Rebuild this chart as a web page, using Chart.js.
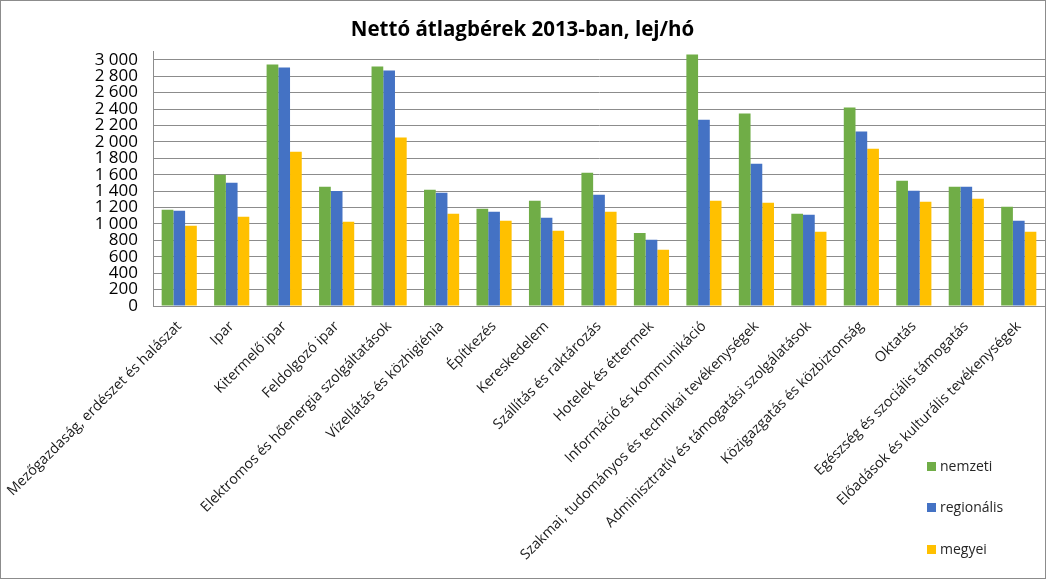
<!DOCTYPE html>
<html>
<head>
<meta charset="utf-8">
<script src="https://cdn.jsdelivr.net/npm/chart.js@4/dist/chart.umd.min.js"></script>
<style>
  html, body { margin: 0; padding: 0; background: #fff; }
  #wrap { position: relative; width: 1047px; height: 580px; overflow: hidden; }
  #c { position: absolute; left: 0; top: 0; }
  #frame { position: absolute; left: 0; top: 0; width: 1046px; height: 579px; box-sizing: border-box; border: 1px solid #8c8c8c; pointer-events: none; }
  #legend { position: absolute; left: 927px; top: 456px; font-family: "Open Sans", sans-serif; font-size: 14px; color: #262626; }
  .li { position: absolute; left: 0; white-space: nowrap; height: 20px; line-height: 20px; }
  .sw { display: inline-block; width: 9px; height: 9px; margin-right: 4px; vertical-align: middle; position: relative; top: -1px; }
</style>
</head>
<body>
<div id="wrap">
  <canvas id="c" width="1047" height="580"></canvas>
  <div id="legend"></div>
  <div id="frame"></div>
</div>
<script>
const title = "Nettó átlagbérek 2013-ban, lej/hó";
const categories = [
  "Mezőgazdaság, erdészet és halászat",
  "Ipar",
  "Kitermelő ipar",
  "Feldolgozó ipar",
  "Elektromos és hőenergia szolgáltatások",
  "Vízellátás és közhigiénia",
  "Építkezés",
  "Kereskedelem",
  "Szállítás és raktározás",
  "Hotelek és éttermek",
  "Információ és kommunikáció",
  "Szakmai, tudományos és technikai tevékenységek",
  "Adminisztratív és támogatási szolgálatások",
  "Közigazgatás és közbiztonság",
  "Oktatás",
  "Egészség és szociális támogatás",
  "Előadások és kulturális tevékenységek"
];
const seriesNames = ["nemzeti", "regionális", "megyei"];
const nemzeti    = [1172, 1600, 2943, 1453, 2919, 1417, 1185, 1282, 1624, 891, 3065, 2345, 1123, 2418, 1526, 1453, 1209];
const regionalis = [1160, 1502, 2906, 1400, 2870, 1380, 1148, 1075, 1355, 806, 2271, 1734, 1111, 2125, 1404, 1453, 1038];
const megyei     = [977, 1087, 1881, 1026, 2052, 1123, 1038, 916, 1148, 684, 1282, 1258, 904, 1917, 1270, 1307, 904];
const colors = ["#70AD47", "#4472C4", "#FFC000"];
const yMax = 3100, yTickMax = 3000, yStep = 200;

const font = "'Open Sans', sans-serif";
const allSeries = [nemzeti, regionalis, megyei];

const chart = new Chart(document.getElementById('c'), {
  type: 'bar',
  data: {
    labels: categories,
    datasets: allSeries.map((d, i) => ({
      label: seriesNames[i],
      data: d,
      backgroundColor: colors[i],
      borderWidth: 0,
      categoryPercentage: 0.67,
      barPercentage: 1.0
    }))
  },
  options: {
    responsive: false,
    animation: false,
    events: [],
    layout: { padding: { left: 0, right: 2, top: 0, bottom: 0 } },
    plugins: {
      legend: { display: false },
      tooltip: { enabled: false },
      title: {
        display: true,
        text: title,
        color: '#000',
        font: { family: font, size: 20.5, weight: 'bold' },
        padding: { top: 18, bottom: 9 }
      }
    },
    scales: {
      x: {
        grid: { display: false, drawTicks: false },
        border: { display: true, color: '#8c8c8c', width: 1 },
        ticks: {
          autoSkip: false,
          maxRotation: 45,
          minRotation: 45,
          padding: 12,
          color: '#1a1a1a',
          font: { family: font, size: 14.3 }
        },
        afterFit: (s) => { s.height = 274; s.paddingLeft = 0; s.paddingRight = 0; }
      },
      y: {
        min: 0,
        max: yMax,
        afterBuildTicks: (s) => {
          const t = [];
          for (let v = 0; v <= yTickMax; v += yStep) t.push({ value: v });
          s.ticks = t;
        },
        grid: { color: '#8c8c8c', lineWidth: 1, drawTicks: false },
        border: { display: true, color: '#8c8c8c', width: 1 },
        ticks: {
          autoSkip: false,
          padding: 15,
          color: '#000',
          font: { family: font, size: 17 },
          callback: (v) => String(v).replace(/\B(?=(\d{3})+(?!\d))/g, ' ')
        },
        afterFit: (s) => { s.width = 153; }
      }
    }
  }
});

// HTML legend
const lg = document.getElementById('legend');
const legendY = [0, 41, 83];
seriesNames.forEach((n, i) => {
  const d = document.createElement('div');
  d.className = 'li';
  d.style.top = legendY[i] + 'px';
  d.innerHTML = '<span class="sw" style="background:' + colors[i] + '"></span>' + n;
  lg.appendChild(d);
});
</script>
</body>
</html>
